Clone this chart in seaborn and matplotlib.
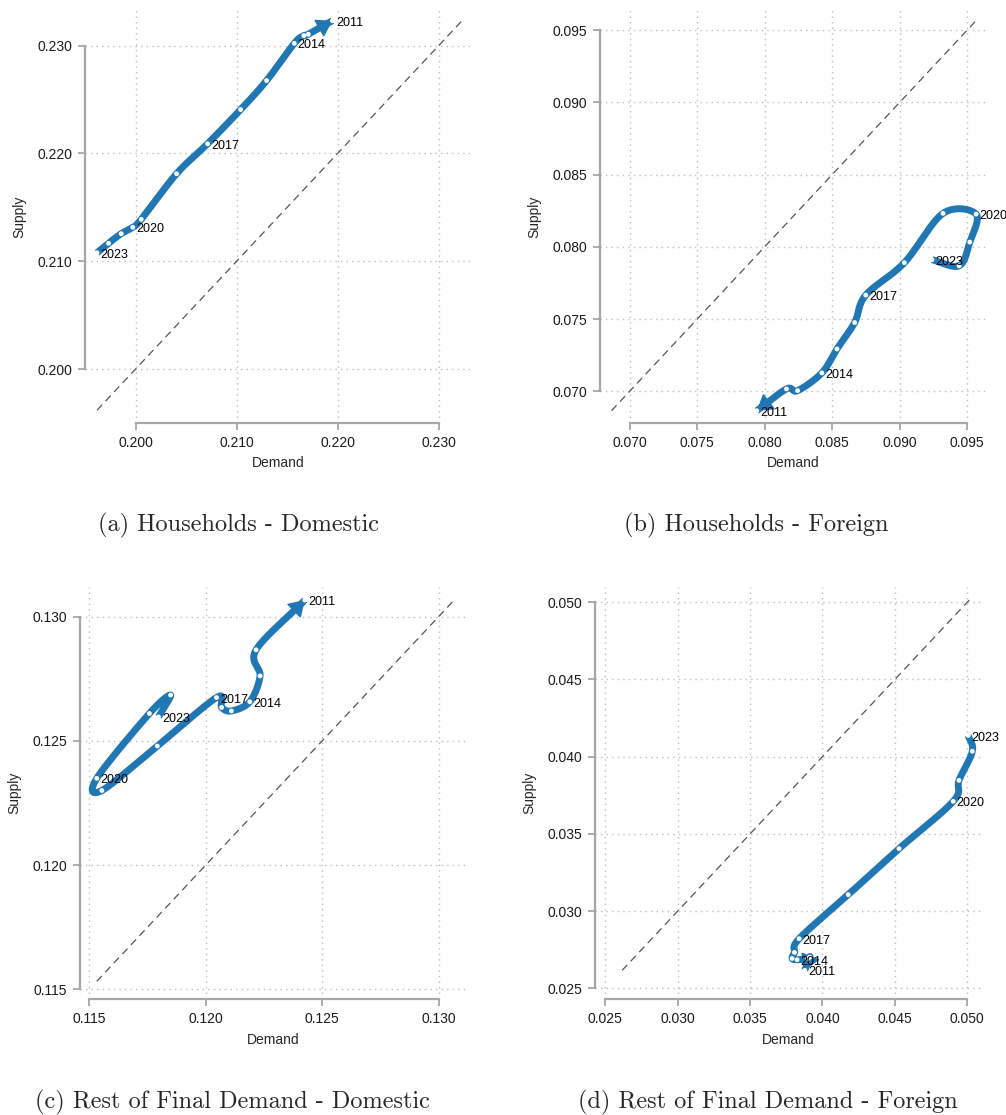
import numpy as np
import matplotlib
matplotlib.use("Agg")
import matplotlib.pyplot as plt
from matplotlib.ticker import MultipleLocator, FormatStrFormatter
import seaborn as sns

sns.set_theme(style="ticks")
plt.rcParams['font.family'] = ['Liberation Sans', 'DejaVu Sans']

years = list(range(2011, 2024))
labelled_years = [2011, 2014, 2017, 2020, 2023]

# (a) Households - Domestic
hh_dom_demand = [0.21948, 0.21710, 0.21666, 0.21571, 0.21297, 0.21040, 0.20713,
                 0.20406, 0.20056, 0.19973, 0.19858, 0.19733, 0.19619]
hh_dom_supply = [0.23231, 0.23105, 0.23093, 0.23021, 0.22676, 0.22407, 0.22090,
                 0.21812, 0.21389, 0.21315, 0.21256, 0.21167, 0.21079]

# (b) Households - Foreign
hh_for_demand = [0.07942, 0.08162, 0.08244, 0.08424, 0.08536, 0.08667, 0.08749,
                 0.09035, 0.09322, 0.09567, 0.09520, 0.09441, 0.09240]
hh_for_supply = [0.06865, 0.07016, 0.07004, 0.07127, 0.07293, 0.07476, 0.07666,
                 0.07890, 0.08232, 0.08227, 0.08033, 0.07869, 0.07911]

# (c) Rest of Final Demand - Domestic
rfd_dom_demand = [0.12425, 0.12216, 0.12233, 0.12189, 0.12110, 0.12068, 0.12046,
                  0.11792, 0.11554, 0.11532, 0.11758, 0.11849, 0.11797]
rfd_dom_supply = [0.13066, 0.12866, 0.12761, 0.12657, 0.12620, 0.12634, 0.12674,
                  0.12479, 0.12300, 0.12349, 0.12610, 0.12684, 0.12596]

# (d) Rest of Final Demand - Foreign
rfd_for_demand = [0.03878, 0.03913, 0.03899, 0.03825, 0.03790, 0.03807, 0.03839,
                  0.04178, 0.04529, 0.04903, 0.04943, 0.05035, 0.05007]
rfd_for_supply = [0.02617, 0.02703, 0.02693, 0.02686, 0.02694, 0.02733, 0.02822,
                  0.03107, 0.03405, 0.03711, 0.03847, 0.04035, 0.04137]

titles = ["(a) Households - Domestic", "(b) Households - Foreign",
          "(c) Rest of Final Demand - Domestic", "(d) Rest of Final Demand - Foreign"]

panels = [(hh_dom_demand, hh_dom_supply), (hh_for_demand, hh_for_supply),
          (rfd_dom_demand, rfd_dom_supply), (rfd_for_demand, rfd_for_supply)]

# layout
axes_rects = [[0.0845, 0.6206, 0.3847, 0.3704], [0.5964, 0.6206, 0.3837, 0.3704],
              [0.0795, 0.1038, 0.3844, 0.3700], [0.5915, 0.1038, 0.3844, 0.3700]]
axis_limits = [(0.1950, 0.2333), (0.0678, 0.0964), (0.1146, 0.1312), (0.0243, 0.0510)]
tick_steps = [0.01, 0.005, 0.005, 0.005]
caption_pos = [(0.2375, 0.5291), (0.7515, 0.5291), (0.2315, 0.0117), (0.7635, 0.0117)]

BLUE = "#2077b4"
GRAY = "#a6a6a6"


def smooth_path(x, y, n=30):
    # Catmull-Rom curve through the yearly points
    p = np.column_stack([x, y])
    p = np.vstack([2 * p[0] - p[1], p, 2 * p[-1] - p[-2]])
    t = np.linspace(0, 1, n, endpoint=False)[:, None]
    out = []
    for i in range(1, len(p) - 2):
        p0, p1, p2, p3 = p[i - 1], p[i], p[i + 1], p[i + 2]
        out.append(0.5 * (2 * p1 + (-p0 + p2) * t + (2 * p0 - 5 * p1 + 4 * p2 - p3) * t ** 2
                          + (-p0 + 3 * p1 - 3 * p2 + p3) * t ** 3))
    out.append(p[-2][None, :])
    return np.vstack(out)


fig = plt.figure(figsize=(10.06, 11.15), dpi=100)

for k, (demand, supply) in enumerate(panels):
    ax = fig.add_axes(axes_rects[k])
    demand = np.array(demand)
    supply = np.array(supply)

    lo = min(demand.min(), supply.min())
    hi = max(demand.max(), supply.max())
    ax.plot([lo, hi], [lo, hi], ls=(0, (6, 4)), color="#555555", lw=0.9, zorder=1)

    path = smooth_path(demand, supply)
    sns.lineplot(x=path[:, 0], y=path[:, 1], sort=False, estimator=None, ax=ax,
                 color=BLUE, lw=5, solid_capstyle="butt", zorder=2)
    # arrow head at the 2011 end
    ax.annotate("", xy=(path[0, 0], path[0, 1]), xytext=(path[4, 0], path[4, 1]),
                arrowprops=dict(arrowstyle="-|>,head_length=0.7,head_width=0.45",
                                color=BLUE, lw=1, shrinkA=0, shrinkB=0,
                                mutation_scale=14), zorder=2)
    sns.scatterplot(x=demand, y=supply, color="white", s=12, edgecolor="none",
                    ax=ax, zorder=3)

    for yr in labelled_years:
        i = years.index(yr)
        ax.annotate(str(yr), (demand[i], supply[i]), xytext=(2.5, -1.5),
                    textcoords="offset points", fontsize=9, va="center", ha="left",
                    color="black", zorder=4)

    ax.set_xlim(*axis_limits[k])
    ax.set_ylim(*axis_limits[k])
    ax.xaxis.set_major_locator(MultipleLocator(tick_steps[k]))
    ax.yaxis.set_major_locator(MultipleLocator(tick_steps[k]))
    ax.xaxis.set_major_formatter(FormatStrFormatter("%.3f"))
    ax.yaxis.set_major_formatter(FormatStrFormatter("%.3f"))
    ax.grid(True, ls=(0, (1, 3)), color="#bdbdbd", lw=1.0)
    ax.set_axisbelow(True)
    ax.set_xlabel("Demand", fontsize=10, labelpad=5)
    ax.set_ylabel("Supply", fontsize=10, labelpad=8)
    ax.tick_params(axis="both", labelsize=10, length=5, width=1.3, color=GRAY,
                   pad=4, labelcolor="#1a1a1a")
    sns.despine(ax=ax, trim=True)
    for side in ["left", "bottom"]:
        ax.spines[side].set_color(GRAY)
        ax.spines[side].set_linewidth(1.6)

    fig.text(caption_pos[k][0], caption_pos[k][1], titles[k], ha="center", va="center",
             fontsize=17.5, family=["cmr10", "DejaVu Serif"])

fig.savefig("out.png", dpi=100)
